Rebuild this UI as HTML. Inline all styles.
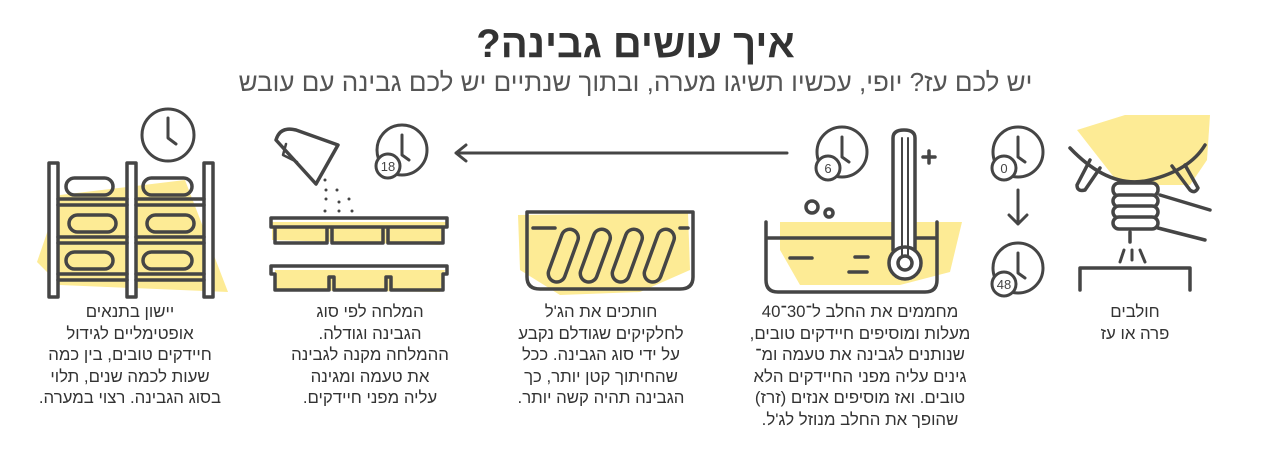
<!DOCTYPE html>
<html><head><meta charset="utf-8"><style>
body{margin:0;background:#fff;width:1271px;height:462px;overflow:hidden;position:relative;font-family:"Liberation Sans",sans-serif;color:#333}
.t{position:absolute;left:0;width:1271px;text-align:center;direction:rtl}
.b{position:absolute;text-align:center;direction:rtl;font-size:16.8px;line-height:21.6px;color:#333;width:260px}
svg{position:absolute;left:0;top:0}
</style></head><body>
<svg width="1271" height="462" viewBox="0 0 1271 462" fill="none" stroke="#454545" stroke-width="4" stroke-linecap="round" stroke-linejoin="round">
<g fill="#fdeb95" stroke="none">
<path d="M60 195 L185 180 L228 292 L60 285 L37 262 Z"/>
<path d="M272 222 L447 222 L440 245 L272 240Z M275 270 L445 270 L440 292 L275 290Z"/>
<path d="M518 215 L688 213 L690 270 L640 292 L560 295 L520 270Z"/>
<path d="M780 222 L962 222 L950 272 L900 285 L800 285 L780 250Z"/>
<path d="M1077 130 L1125 115 L1210 115 L1207 160 L1190 185 L1120 185Z"/>
</g>
<g stroke-width="3.5">
<rect x="49" y="163" width="9" height="134" fill="#fff"/><rect x="127" y="163" width="9" height="134" fill="#fff"/><rect x="204" y="163" width="9" height="134" fill="#fff"/>
<path d="M58 199H127M136 199H204M58 205H127M136 205H204M58 237H127M136 237H204M58 243H127M136 243H204M58 274H127M136 274H204M58 280H127M136 280H204"/>
<rect x="66" y="178" width="47" height="17" rx="8.5"/><rect x="143" y="178" width="49" height="17" rx="8.5"/>
<rect x="69" y="215" width="47" height="17" rx="8.5"/><rect x="147" y="215" width="47" height="17" rx="8.5"/>
<rect x="66" y="252" width="47" height="17" rx="8.5"/><rect x="143" y="252" width="49" height="17" rx="8.5"/>
<circle cx="168" cy="135" r="26" stroke-width="3"/><path d="M168 118V138L176 144" stroke-width="3"/>
</g>
<g stroke-width="3.5">
<path d="M276 140 Q280 126 296 130 L338 145 L316 184 Z"/><path d="M286 144 L283 155 L297 162" stroke-width="2.5"/>
<circle cx="402" cy="150" r="25" stroke-width="3"/><path d="M402 135V155L409 160" stroke-width="3"/>
<circle cx="388" cy="166" r="12" fill="#fff" stroke-width="3"/>
<path d="M271 218H447V227H271Z M275 227H327V243H275Z M332 227H383V243H332Z M388 227H443V243H388Z"/>
<path d="M271 266H447V274H443V290H391V277H386V290H334V277H329V290H275V274H271Z"/>
</g>
<g fill="#454545" stroke="none">
<circle cx="325" cy="180" r="1.5"/><circle cx="326" cy="190" r="1.5"/><circle cx="337" cy="190" r="1.5"/><circle cx="326" cy="199" r="1.5"/><circle cx="339" cy="202" r="1.5"/><circle cx="349" cy="199" r="1.5"/><circle cx="325" cy="211" r="1.5"/><circle cx="339" cy="211" r="1.5"/><circle cx="352" cy="211" r="1.5"/>
</g>
<path d="M456 153H787M466 145L456 153L466 161" stroke-width="3"/>
<g stroke-width="3.5">
<path d="M527 212H693V277Q693 289 680 289H540Q527 289 527 277Z"/>
<path d="M533 228H555M680 228H688" />
<g><rect x="555" y="228" width="17" height="55" rx="8.5" transform="rotate(20 563 255)"/><rect x="587" y="228" width="17" height="55" rx="8.5" transform="rotate(20 595 255)"/><rect x="619" y="228" width="17" height="55" rx="8.5" transform="rotate(20 627 255)"/><rect x="651" y="228" width="17" height="55" rx="8.5" transform="rotate(20 659 255)"/></g>
</g>
<g stroke-width="3.5">
<path d="M766 222V280Q766 292 778 292H925Q937 292 937 280V222"/><path d="M768 238H935M790 258H812M855 257H868M849 272H867"/>
<circle cx="812" cy="207" r="6"/><circle cx="829" cy="213" r="4"/>
<path d="M893 250V138Q893 130 904 130Q915 130 915 138V250" fill="#fff"/><circle cx="905" cy="263" r="16" fill="#fff"/><circle cx="905" cy="263" r="7"/><path d="M902 138V255M908 138V255" stroke-width="2"/>
<path d="M923 157H935M929 151V163"/>
<circle cx="842" cy="152" r="25" stroke-width="3"/><path d="M842 137V157L849 162" stroke-width="3"/><circle cx="828" cy="168" r="12" fill="#fff" stroke-width="3"/>
<circle cx="1018" cy="152" r="25" stroke-width="3"/><path d="M1018 137V157L1025 162" stroke-width="3"/><circle cx="1004" cy="168" r="12" fill="#fff" stroke-width="3"/>
<path d="M1018 190V224M1009 215L1018 224L1027 215" stroke-width="3"/>
<circle cx="1018" cy="268" r="25" stroke-width="3"/><path d="M1018 253V273L1025 278" stroke-width="3"/><circle cx="1004" cy="284" r="12" fill="#fff" stroke-width="3"/>
<path d="M1070 148 Q1110 190 1150 180 Q1190 170 1205 145"/>
<path d="M1090 160 L1077 185 Q1077 192 1085 190 L1100 168M1172 166 L1190 190 Q1195 194 1198 188 L1185 165"/>
<rect x="1113" y="183" width="45" height="13" rx="6" fill="#fff"/><rect x="1113" y="195" width="45" height="12" rx="6" fill="#fff"/><rect x="1113" y="206" width="45" height="12" rx="6" fill="#fff"/><rect x="1113" y="217" width="45" height="12" rx="6" fill="#fff"/>
<path d="M1160 195 L1210 210M1158 228 L1205 240M1130 232V242"/>
<path d="M1132 250V260M1124 250L1120 262M1140 250L1145 262" stroke-width="3"/>
<path d="M1080 290V268H1190V290"/>
</g>
<g font-family="Liberation Sans" font-size="13" fill="#454545" stroke="none" text-anchor="middle"><text x="388" y="171">18</text><text x="828" y="173">6</text><text x="1004" y="173">0</text><text x="1004" y="289">48</text></g>
</svg>
<div class="t" style="top:22px;font-size:40px;font-weight:bold;color:#333">איך עושים גבינה?</div>
<div class="t" style="top:67px;font-size:26px;color:#555">יש לכם עז? יופי, עכשיו תשיגו מערה, ובתוך שנתיים יש לכם גבינה עם עובש</div>
<div class="b" style="left:0px;top:301px">יישון בתנאים<br>אופטימליים לגידול<br>חיידקים טובים, בין כמה<br>שעות לכמה שנים, תלוי<br>בסוג הגבינה. רצוי במערה.</div>
<div class="b" style="left:240px;top:301px">המלחה לפי סוג<br>הגבינה וגודלה.<br>ההמלחה מקנה לגבינה<br>את טעמה ומגינה<br>עליה מפני חיידקים.</div>
<div class="b" style="left:471px;top:301px">חותכים את הג'ל<br>לחלקיקים שגודלם נקבע<br>על ידי סוג הגבינה. ככל<br>שהחיתוך קטן יותר, כך<br>הגבינה תהיה קשה יותר.</div>
<div class="b" style="left:730px;top:301px">מחממים את החלב ל־30־40<br>מעלות ומוסיפים חיידקים טובים,<br>שנותנים לגבינה את טעמה ומ־<br>גינים עליה מפני החיידקים הלא<br>טובים. ואז מוסיפים אנזים (זרז)<br>שהופך את החלב מנוזל לג'ל.</div>
<div class="b" style="left:1005px;top:301px">חולבים<br>פרה או עז</div>
</body></html>
